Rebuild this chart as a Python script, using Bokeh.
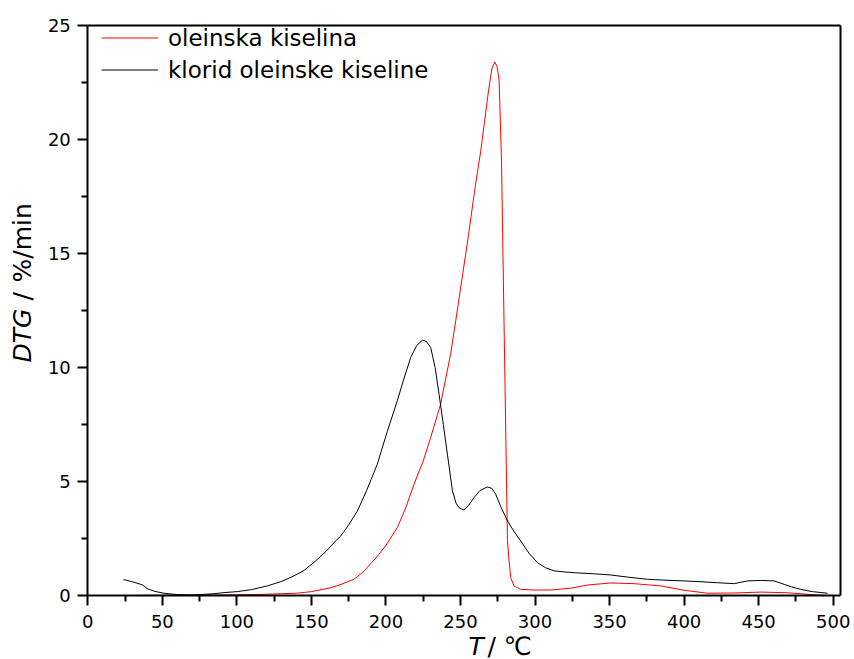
import math
from bokeh.plotting import figure
from bokeh.models import Range1d, Label, Legend, LegendItem, FixedTicker, LinearAxis
from bokeh.embed import file_html
from bokeh.resources import INLINE

# --- data ---
t_oleic = [28, 50, 80, 100, 118, 130, 140, 150, 163, 170, 178.5, 185, 194, 200,
           207.6, 213, 218.8, 225, 230, 236.7, 243.4, 246.8, 254.8, 260, 263.6,
           268.3, 271, 273, 274.5, 275.9, 277.5, 279.2, 281.5, 282.6, 283.7,
           285.9, 290.4, 300, 310.5, 323.9, 335.2, 350.8, 366.4, 384.4, 400,
           415.7, 433.6, 451.5, 469.4, 482.8, 496]
dtg_oleic = [0.0, 0.01, 0.02, 0.03, 0.05, 0.08, 0.1, 0.17, 0.34, 0.49, 0.71, 1.05,
             1.7, 2.2, 2.98, 3.8, 4.88, 5.9, 6.93, 8.4, 10.6, 12.05, 15.55, 18.0,
             19.5, 21.9, 23.1, 23.4, 23.2, 22.6, 19.1, 12.0, 2.4, 1.5, 0.78, 0.42,
             0.27, 0.24, 0.24, 0.32, 0.46, 0.55, 0.52, 0.42, 0.23, 0.1, 0.11, 0.15,
             0.12, 0.05, 0.0]

t_chloride = [24, 30, 36.5, 39.9, 45, 51, 60, 68.9, 76, 84.6, 92, 100.3, 110, 120.4,
              130, 138.3, 145, 151.7, 160, 166.2, 169.6, 175, 180.8, 187, 194.2,
              200.9, 207.6, 212, 216.6, 220.5, 224.4, 227, 230, 233, 235.6, 238.5,
              241.2, 244.6, 247, 249, 252.3, 255.5, 259, 263, 268, 271, 273.6, 277,
              281.5, 286, 290.4, 296, 301.6, 307, 312.8, 320, 326.2, 340, 350.8,
              363, 375.4, 388, 400, 412, 422.4, 433.6, 438, 442.5, 452, 460.4,
              467.1, 472, 478.2, 486, 496.2]
dtg_chloride = [0.7, 0.6, 0.47, 0.3, 0.18, 0.1, 0.04, 0.02, 0.04, 0.08, 0.13, 0.17,
                0.26, 0.42, 0.62, 0.86, 1.1, 1.45, 1.95, 2.39, 2.6, 3.1, 3.7, 4.6,
                5.76, 7.2, 8.54, 9.5, 10.44, 10.95, 11.2, 11.15, 10.88, 10.0, 8.83,
                7.5, 6.2, 4.59, 4.05, 3.85, 3.75, 3.95, 4.29, 4.6, 4.76, 4.7, 4.44,
                3.9, 3.27, 2.8, 2.39, 1.85, 1.44, 1.22, 1.08, 1.03, 1.0, 0.95, 0.9,
                0.8, 0.71, 0.67, 0.64, 0.6, 0.56, 0.52, 0.58, 0.64, 0.66, 0.64, 0.49,
                0.38, 0.27, 0.17, 0.1]

x_ticks = [0, 50, 100, 150, 200, 250, 300, 350, 400, 450, 500]
y_ticks = [0, 5, 10, 15, 20, 25]
x_bounds = (0, 505)
y_bounds = (0, 25)
names = ["oleinska kiselina", "klorid oleinske kiseline"]

FONT = "DejaVu Sans"
W, H = 854, 659

# frame covers the whole canvas; the axes sit at fixed data locations
p = figure(width=W, height=H, output_backend="svg", toolbar_location=None,
           x_range=Range1d(-58.56, 514.29), y_range=Range1d(-2.807, 26.096))
p.min_border_left = 0
p.min_border_right = 0
p.min_border_top = 0
p.min_border_bottom = 0
p.xgrid.visible = False
p.ygrid.visible = False
p.outline_line_color = None
p.background_fill_color = "white"
p.border_fill_color = "white"


def style_axis(ax, ticks, bounds, loc):
    ax.fixed_location = loc
    ax.bounds = bounds
    ax.ticker = FixedTicker(ticks=ticks,
                            minor_ticks=[ticks[0] + (ticks[1] - ticks[0]) * (i + 0.5)
                                         for i in range(len(ticks) - 1)])
    ax.axis_line_width = 2
    ax.axis_line_color = "black"
    ax.major_tick_line_width = 2
    ax.minor_tick_line_width = 2
    ax.major_tick_in = 0
    ax.major_tick_out = 10
    ax.minor_tick_in = 0
    ax.minor_tick_out = 6
    ax.major_label_text_font = FONT
    ax.major_label_text_font_size = "18px"
    ax.major_label_text_color = "black"
    ax.axis_label = None


style_axis(p.xaxis[0], x_ticks, x_bounds, y_bounds[0])
style_axis(p.yaxis[0], y_ticks, y_bounds, x_bounds[0])
p.xaxis[0].major_label_standoff = 10
p.yaxis[0].major_label_standoff = 7

# top and right frame lines
for side, bounds, loc in (("above", x_bounds, y_bounds[1]), ("right", y_bounds, x_bounds[1])):
    ax = LinearAxis(fixed_location=loc, bounds=bounds, ticker=FixedTicker(ticks=[]),
                    axis_line_width=2, axis_line_color="black",
                    major_tick_line_color=None, minor_tick_line_color=None,
                    major_label_text_font_size="0px")
    p.add_layout(ax, side)

r1 = p.line(t_oleic, dtg_oleic, line_color="#ff0000", line_width=1)
r2 = p.line(t_chloride, dtg_chloride, line_color="black", line_width=1)

legend = Legend(items=[LegendItem(label=names[0], renderers=[r1]),
                       LegendItem(label=names[1], renderers=[r2])],
                location=(101, 576), margin=0, padding=0, spacing=5,
                glyph_width=57, glyph_height=27, label_height=27,
                label_standoff=10, label_text_font=FONT,
                label_text_font_size="23px", label_text_color="black",
                border_line_color=None, background_fill_alpha=0)
p.add_layout(legend)

# axis titles (italic symbol + upright unit)
lab_style = dict(text_font=FONT, text_font_size="25px", text_color="black",
                 x_units="screen", y_units="screen", text_baseline="alphabetic",
                 text_align="left")
p.add_layout(Label(x=22, y=297, text="DTG", angle=math.pi / 2,
                   text_font_style="italic", **lab_style))
p.add_layout(Label(x=22, y=359, text="/", angle=math.pi / 2, **lab_style))
p.add_layout(Label(x=22, y=377, text="%/min", angle=math.pi / 2, **lab_style))
p.add_layout(Label(x=468, y=13, text="T", text_font_style="italic", **lab_style))
p.add_layout(Label(x=487, y=13, text="/ ℃", **lab_style))

open("out.html", "w").write(file_html(p, INLINE))
